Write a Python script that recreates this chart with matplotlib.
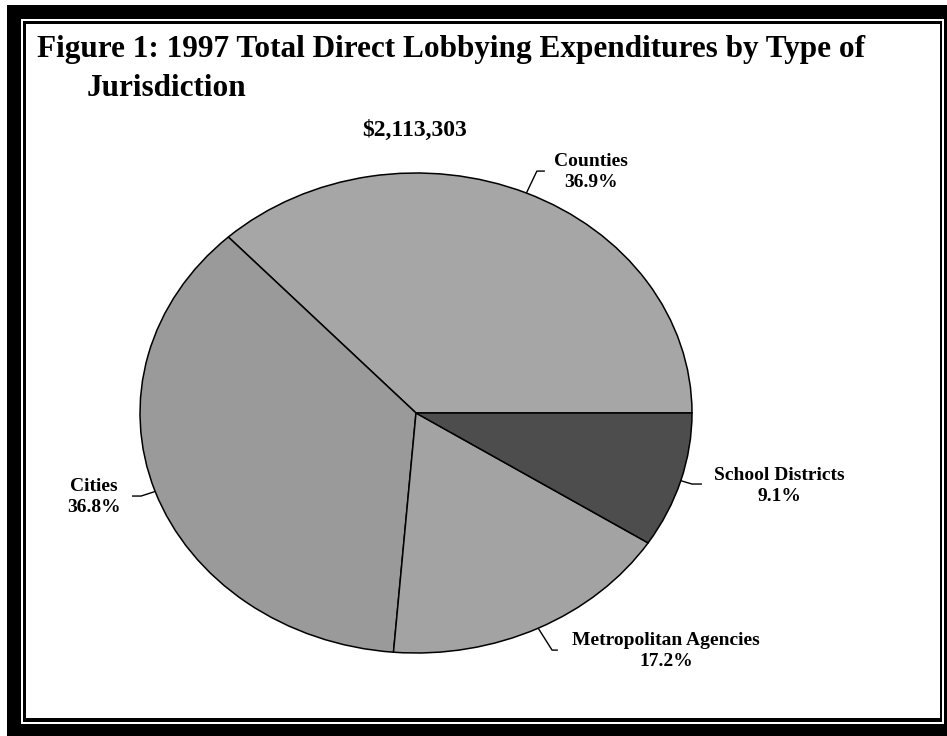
import matplotlib
matplotlib.use("Agg")
import matplotlib.pyplot as plt
from matplotlib.patches import Rectangle
import numpy as np

# ---- data ----
categories = ["Counties", "Cities", "Metropolitan Agencies", "School Districts"]
shares = [36.9, 36.8, 17.2, 9.1]
pct_labels = ["36.9%", "36.8%", "17.2%", "9.1%"]
title_line1 = "Figure 1: 1997 Total Direct Lobbying Expenditures by Type of"
title_line2 = "Jurisdiction"
total_label = "$2,113,303"

# ---- style ----
colors = ["#a6a6a6", "#9a9a9a", "#a3a3a3", "#4d4d4d"]
FONT = "Liberation Serif"
W, H = 947, 736

fig = plt.figure(figsize=(W / 100, H / 100), dpi=100)
fig.patch.set_facecolor("white")


def px_rect(x0, y0, x1, y1, color, z):
    fig.add_artist(Rectangle((x0 / W, 1 - y1 / H), (x1 - x0) / W, (y1 - y0) / H,
                             transform=fig.transFigure, facecolor=color,
                             edgecolor="none", zorder=z))


# frame
px_rect(7, 5, 947, 736, "black", -10)
px_rect(21, 19, 944, 724, "white", -9)
px_rect(23, 21, 942, 722, "black", -8)
px_rect(26, 24, 940, 718, "white", -7)

# pie axes (elliptical pie)
cx, cy, a, b = 416, 413, 276, 240
ax = fig.add_axes([(cx - a) / W, (H - cy - b) / H, 2 * a / W, 2 * b / H])
wedges, _ = ax.pie(shares, colors=colors, startangle=0, counterclock=True,
                   wedgeprops=dict(edgecolor="black", linewidth=1.1))
ax.set_aspect("auto")
ax.set_xlim(-1, 1)
ax.set_ylim(-1, 1)
ax.axis("off")

# label layout: leader elbow, end of horizontal part, text centre
layout = [
    dict(elbow=(0.438, 1.008), end=0.467, text=(0.634, 1.004)),
    dict(elbow=(-0.996, -0.346), end=-1.029, text=(-1.167, -0.35)),
    dict(elbow=(0.493, -0.988), end=0.514, text=(0.906, -0.99)),
    dict(elbow=(1.0, -0.296), end=1.036, text=(1.315, -0.304)),
]

for w, cat, pct, lay in zip(wedges, categories, pct_labels, layout):
    mid = np.deg2rad((w.theta1 + w.theta2) / 2)
    ex, ey = np.cos(mid), np.sin(mid)
    bx, by = lay["elbow"]
    ax.plot([ex, bx, lay["end"]], [ey, by, by], color="black", lw=1.0,
            clip_on=False, solid_capstyle="butt")
    ax.text(lay["text"][0], lay["text"][1], f"{cat}\n{pct}", ha="center",
            va="center", multialignment="center", fontsize=14,
            fontweight="bold", family=FONT, linespacing=1.3, clip_on=False)

# titles
fig.text(37 / W, 1 - 57 / H, title_line1, ha="left", va="baseline",
         fontsize=22.5, fontweight="bold", family=FONT)
fig.text(87 / W, 1 - 96 / H, title_line2, ha="left", va="baseline",
         fontsize=22.5, fontweight="bold", family=FONT)
fig.text(415 / W, 1 - 130 / H, total_label, ha="center", va="center",
         fontsize=17, fontweight="bold", family=FONT)

fig.savefig("out.png", dpi=100)
